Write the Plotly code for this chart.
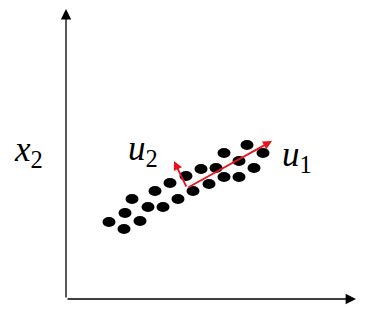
import plotly.graph_objects as go

W, H = 368, 313

# data: point cloud (x1, x2) in chart units (y up)
px = [109, 125, 124, 140, 132, 148, 163, 155, 170, 178, 193, 186, 201, 209, 216, 224, 224, 239, 239, 247, 254, 263]
py_img = [222, 213, 229, 221, 199, 207, 207, 191, 183, 199, 191, 176, 169, 184, 168, 153, 177, 161, 177, 145, 168, 153]
py = [H - v for v in py_img]

# principal directions (origin, u1 tip, u2 tip)
origin = (187, H - 188)
u1_tip = (272, H - 141)
u2_tip = (174, H - 161)

# axes
x_axis = ((66, H - 299), (356, H - 299))
y_axis = ((66, H - 299), (66, H - 9))

fig = go.Figure()

shapes = []
rx, ry = 6.5, 5.0
for x, y in zip(px, py):
    shapes.append(dict(type="circle", xref="x", yref="y", x0=x - rx, x1=x + rx, y0=y - ry, y1=y + ry,
                       fillcolor="black", line=dict(width=0)))

fig.add_trace(go.Scatter(x=px, y=py, mode="markers", marker=dict(size=1, color="rgba(0,0,0,0)"),
                         hoverinfo="skip", showlegend=False))

annotations = []
for (a, b) in [x_axis, y_axis]:
    annotations.append(dict(x=b[0], y=b[1], ax=a[0], ay=a[1], xref="x", yref="y", axref="x", ayref="y",
                            text="", showarrow=True, arrowhead=2, arrowsize=1.6, arrowwidth=1.3,
                            arrowcolor="black"))
red = "#e8141c"
for tip in [u1_tip, u2_tip]:
    annotations.append(dict(x=tip[0], y=tip[1], ax=origin[0], ay=origin[1], xref="x", yref="y",
                            axref="x", ayref="y", text="", showarrow=True, arrowhead=2, arrowsize=1.0,
                            arrowwidth=1.8, arrowcolor=red))

font = dict(family="Liberation Serif", size=35, color="black")
labels = [("<i>x</i><sub>2</sub>", 28, H - 151), ("<i>u</i><sub>2</sub>", 143, H - 150),
          ("<i>u</i><sub>1</sub>", 297, H - 156)]
for t, x, y in labels:
    annotations.append(dict(x=x, y=y, xref="x", yref="y", text=t, showarrow=False, font=font,
                            xanchor="center", yanchor="middle"))

fig.update_layout(width=W, height=H, margin=dict(l=0, r=0, t=0, b=0), paper_bgcolor="white",
                  plot_bgcolor="white", shapes=shapes, annotations=annotations, showlegend=False,
                  xaxis=dict(range=[0, W], visible=False, fixedrange=True),
                  yaxis=dict(range=[0, H], visible=False, fixedrange=True))

fig.write_html("out.html")
